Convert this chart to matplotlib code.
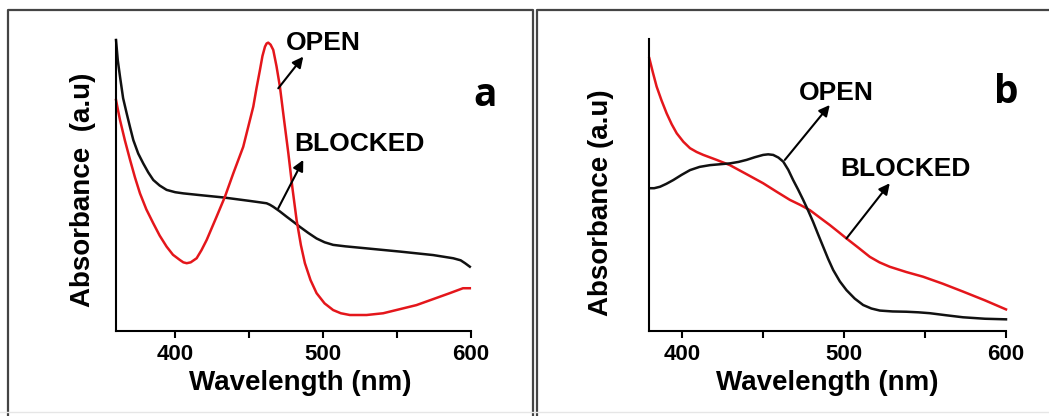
import matplotlib.pyplot as plt
from matplotlib.lines import Line2D

plt.rcParams['font.family'] = ['Liberation Sans', 'DejaVu Sans']
plt.rcParams['font.weight'] = 'bold'

# --- panel a: spectra (wavelength nm, absorbance a.u.) ---
a_black_x = [360, 361.2, 362.7, 364.8, 367.2, 369.5, 371.7, 375, 378.4, 381.8,
             385.2, 389.5, 394.2, 400, 405.5, 416.8, 432.5, 450.5, 461.8, 464,
             466.3, 470.5, 475.3, 480, 484.3, 490, 495.6, 501, 506.8, 515,
             529.4, 551.9, 574.4, 588, 593, 596, 599.2]
a_black_y = [1.0, 0.93, 0.874, 0.80, 0.748, 0.70, 0.656, 0.61, 0.576, 0.545,
             0.519, 0.50, 0.485, 0.477, 0.473, 0.467, 0.459, 0.447, 0.439, 0.434,
             0.427, 0.412, 0.393, 0.375, 0.358, 0.337, 0.318, 0.305, 0.296, 0.291,
             0.284, 0.273, 0.261, 0.250, 0.243, 0.233, 0.221]

a_red_x = [360, 361.3, 362.7, 366, 369.5, 372.8, 376.2, 380.5, 385.2, 389.5,
           394.2, 398.5, 403.2, 405.5, 407.8, 410.5, 414.5, 417.8, 421.3, 428,
           433.6, 439.3, 446, 452.8, 455, 457.3, 459, 460.7, 461.8, 462.9,
           464.5, 466.3, 468.5, 470.8, 473.5, 476.5, 479.3, 482.1, 485, 487.7,
           491.5, 495.6, 501, 506.8, 512, 518.1, 529.4, 540.6, 563.1, 585.6,
           594.6, 599.2]
a_red_y = [0.794, 0.76, 0.725, 0.655, 0.588, 0.528, 0.473, 0.418, 0.370, 0.328,
           0.290, 0.262, 0.244, 0.236, 0.233, 0.236, 0.250, 0.278, 0.313, 0.393,
           0.461, 0.542, 0.633, 0.771, 0.835, 0.897, 0.945, 0.977, 0.988, 0.991,
           0.984, 0.966, 0.91, 0.840, 0.73, 0.611, 0.49, 0.381, 0.295, 0.233,
           0.175, 0.130, 0.095, 0.072, 0.061, 0.055, 0.055, 0.061, 0.089, 0.130,
           0.147, 0.147]

# --- panel b ---
b_red_x = [380, 382.2, 384.5, 387.5, 390.7, 393.8, 396.9, 401, 405.1, 409.2,
           413.3, 421.5, 429.7, 440, 450.2, 458.5, 466.7, 473, 479, 485,
           491.3, 496.5, 501.6, 509, 516, 522, 528.3, 538.5, 548.8, 561,
           573.5, 587, 600]
b_red_y = [0.934, 0.885, 0.837, 0.79, 0.745, 0.708, 0.677, 0.648, 0.626, 0.613,
           0.603, 0.586, 0.568, 0.537, 0.506, 0.477, 0.449, 0.432, 0.414, 0.389,
           0.363, 0.340, 0.317, 0.285, 0.254, 0.235, 0.220, 0.202, 0.186, 0.162,
           0.135, 0.105, 0.074]

b_black_x = [380, 383, 386.6, 390.5, 394.8, 400, 405.1, 411, 417.4, 423.5,
             429.7, 435, 440, 445, 450.2, 453.3, 456.4, 459.6, 462.6, 465.7,
             468.7, 471.8, 474.9, 478, 481, 484.1, 487.2, 490.3, 493.4, 497.5,
             501.6, 506.7, 511.9, 517, 522.2, 530, 538.6, 546, 553, 563,
             573.5, 587, 600]
b_black_y = [0.489, 0.489, 0.494, 0.504, 0.517, 0.535, 0.551, 0.562, 0.568, 0.571,
             0.574, 0.579, 0.586, 0.595, 0.603, 0.605, 0.603, 0.594, 0.580, 0.552,
             0.517, 0.484, 0.449, 0.412, 0.374, 0.331, 0.289, 0.247, 0.209, 0.170,
             0.140, 0.111, 0.089, 0.077, 0.070, 0.067, 0.066, 0.064, 0.061, 0.054,
             0.047, 0.042, 0.040]

RED = '#e4161b'
BLK = '#111111'

fig = plt.figure(figsize=(10.49, 4.16), dpi=100)

# panel frames
frame = dict(color='#444444', lw=1.6, transform=fig.transFigure)
W, H = 1049, 416
for xs, ys in [([8, 8, 533, 533], [416, 10, 10, 416]),
               ([537, 537, 1049], [416, 10, 10])]:
    fig.add_artist(Line2D([x / W for x in xs], [1 - y / H for y in ys], **frame))
fig.add_artist(Line2D([0, 1], [1 - 412 / H] * 2, color='#e6e6e6', lw=1,
                      transform=fig.transFigure))

ax_a = fig.add_axes([0.1106, 0.2043, 0.3384, 0.6995])
ax_b = fig.add_axes([0.619, 0.2043, 0.340, 0.702])


def style(ax, x0):
    ax.set_xlim(x0, 600)
    ax.set_ylim(0, 1)
    for s in ['top', 'right']:
        ax.spines[s].set_visible(False)
    for s in ['left', 'bottom']:
        ax.spines[s].set_linewidth(1.5)
    ax.set_yticks([])
    ax.set_xticks([400, 500, 600])
    ax.set_xticks([450, 550], minor=True)
    ax.tick_params(axis='x', which='both', direction='out', length=5, width=1.5,
                   pad=4, labelsize=16)
    ax.set_xlabel('Wavelength (nm)', fontsize=20, fontweight='bold')
    ax.xaxis.set_label_coords(0.52, -0.134)
    for lab in ax.get_xticklabels():
        lab.set_fontweight('bold')


style(ax_a, 360)
ax_a.plot(a_black_x, a_black_y, color=BLK, lw=1.8, clip_on=False)
ax_a.plot(a_red_x, a_red_y, color=RED, lw=1.8, clip_on=False)
ax_a.set_ylabel('Absorbance  (a.u)', fontsize=20, fontweight='bold')
ax_a.yaxis.set_label_coords(-0.057, 0.485)

arrow = dict(arrowstyle='-|>', color='black', lw=1.5, mutation_scale=16,
             shrinkA=0, shrinkB=0)
ax_a.annotate('', xy=(486.6, 0.943), xytext=(469.7, 0.834), arrowprops=arrow,
              annotation_clip=False)
ax_a.annotate('', xy=(486.6, 0.588), xytext=(469.7, 0.422), arrowprops=arrow)
ax_a.text(499.9, 0.99, 'OPEN', fontsize=19, ha='center', va='center',
          clip_on=False)
ax_a.text(524.9, 0.643, 'BLOCKED', fontsize=19, ha='center', va='center')
ax_a.text(1.041, 0.811, 'a', transform=ax_a.transAxes, fontsize=28,
          family='Open Sans', fontweight='bold', ha='center', va='center')

style(ax_b, 380)
ax_b.plot(b_red_x, b_red_y, color=RED, lw=1.8, clip_on=False)
ax_b.plot(b_black_x, b_black_y, color=BLK, lw=1.8, clip_on=False)
ax_b.set_ylabel('Absorbance (a.u)', fontsize=20, fontweight='bold')
ax_b.yaxis.set_label_coords(-0.1, 0.44)
ax_b.xaxis.set_label_coords(0.50, -0.134)

ax_b.annotate('', xy=(491.3, 0.774), xytext=(463.6, 0.586), arrowprops=arrow)
ax_b.annotate('', xy=(528.3, 0.506), xytext=(501.6, 0.317), arrowprops=arrow)
ax_b.text(495.6, 0.815, 'OPEN', fontsize=19, ha='center', va='center')
ax_b.text(538.0, 0.555, 'BLOCKED', fontsize=19, ha='center', va='center')
ax_b.text(1.0014, 0.817, 'b', transform=ax_b.transAxes, fontsize=28,
          family='Open Sans', fontweight='bold', ha='center', va='center')

fig.savefig('out.png', dpi=100)
